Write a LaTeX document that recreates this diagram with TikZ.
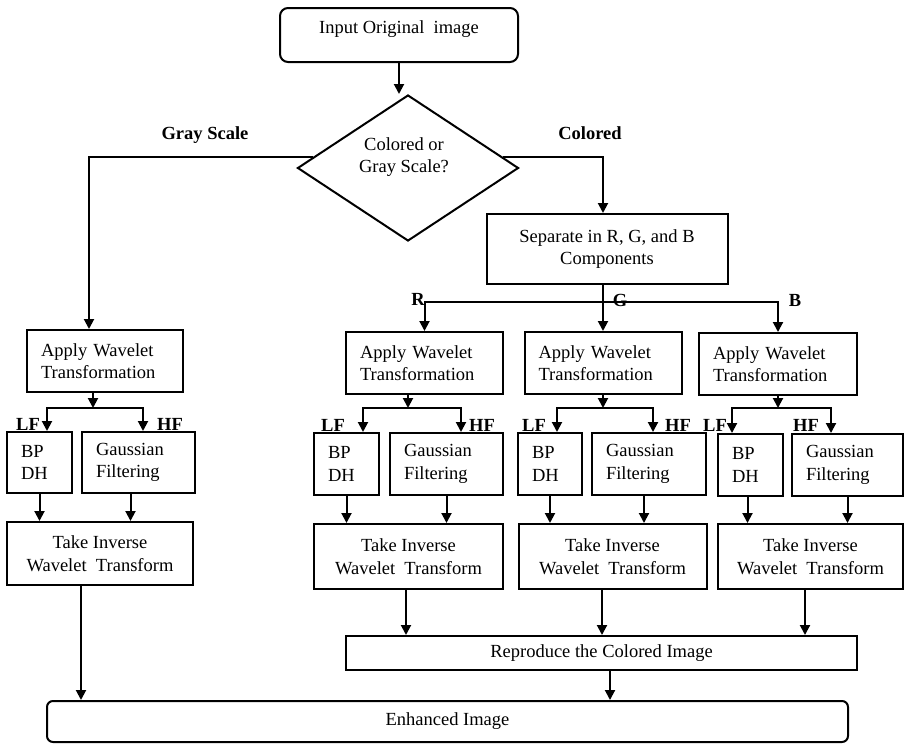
\documentclass[tikz,border=0pt]{standalone}
\usepackage{fontspec}
\setmainfont{Liberation Serif}
\usetikzlibrary{arrows.meta,shapes.geometric,calc}
\begin{document}
\begin{tikzpicture}[x=1pt,y=-1pt,
  every node/.style={font=\fontsize{18.5}{22.5}\selectfont},
  ln/.style={line width=2pt},
  arr/.style={line width=2pt,-{Triangle[width=10pt,length=10pt]}},
  box/.style={draw,line width=2pt,rectangle,inner sep=0pt,align=center},
  rbox/.style={box,rounded corners=8pt},
  lbox/.style={box,align=left},
  lab/.style={font=\bfseries\fontsize{18.5}{22.5}\selectfont,inner sep=0pt}]
\useasboundingbox[fill=white] (0,0) rectangle (905,744);

% top
\node[rbox,minimum width=238,minimum height=54,text height=12pt,text depth=14pt] (in) at (399,35) {Input Original\ \ image};
\node[diamond,draw,ln,minimum width=221,minimum height=146,inner sep=0pt] (dec) at (408,168) {};
\node[align=center,inner sep=0pt] (dect) at (404,157) {Colored or\\Gray Scale?};
\draw[arr] (in.south) -- (in.south |- dec.north);

\node[lab] (gsl) at (205,135) {Gray Scale};
\node[lab] (coll) at (590,133) {Colored};

\node[box,minimum width=241,minimum height=70] (sep) at (607,249) {Separate in R, G, and B\\Components};

% apply wavelet boxes
\node[lbox,minimum width=156,minimum height=62,text width=128] (aw0) at (105,361) {Apply Wavelet\\Transformation};
\node[lbox,minimum width=157,minimum height=62,text width=129] (awR) at (424.5,363) {Apply Wavelet\\Transformation};
\node[lbox,minimum width=157,minimum height=62,text width=129] (awG) at (603,363) {Apply Wavelet\\Transformation};
\node[lbox,minimum width=158,minimum height=62,text width=130] (awB) at (778,364) {Apply Wavelet\\Transformation};

\draw[arr] ($(dec.west)!0.15!(dec.north)$) -| ([xshift=-16pt]aw0.north);
\draw[arr] ($(dec.east)!0.15!(dec.north)$) -| ([xshift=-4pt]sep.north);

\coordinate (sp) at (603,302);
\draw[ln] ([xshift=-4pt]sep.south) -- (sp);
\draw[arr] (sp) -- (awG.north);
\draw[arr] (sp) -| (awR.north);
\draw[arr] (sp) -| (awB.north);
\node[lab] (lR) at (418,299) {R};
\node[lab] (lG) at (620,300) {G};
\node[lab] (lB) at (795,300) {B};

% BP DH and Gaussian boxes
\node[lbox,minimum width=65,minimum height=61,text width=37] (bp0) at (39.5,462.5) {BP\\DH};
\node[lbox,minimum width=113,minimum height=61,text width=85] (g0) at (138.5,462.5) {Gaussian\\Filtering};
\node[lbox,minimum width=65,minimum height=62,text width=37] (bpR) at (346.5,464) {BP\\DH};
\node[lbox,minimum width=113,minimum height=62,text width=85] (gR) at (446.5,464) {Gaussian\\Filtering};
\node[lbox,minimum width=64,minimum height=62,text width=36] (bpG) at (550,464) {BP\\DH};
\node[lbox,minimum width=114,minimum height=62,text width=86] (gG) at (649,464) {Gaussian\\Filtering};
\node[lbox,minimum width=65,minimum height=62,text width=37] (bpB) at (750.5,465) {BP\\DH};
\node[lbox,minimum width=111,minimum height=62,text width=83] (gB) at (847.5,465) {Gaussian\\Filtering};

% splits
\coordinate (c0) at (93,408);  \coordinate (l0) at (47,408);  \coordinate (h0) at (143,408);
\coordinate (cR) at (408,408); \coordinate (lR0) at (363,408); \coordinate (hR) at (461,408);
\coordinate (cG) at (603,408); \coordinate (lG0) at (557,408); \coordinate (hG) at (653,408);
\coordinate (cB) at (778,408); \coordinate (lB0) at (732,408); \coordinate (hB) at (831,408);

\draw[arr] (aw0.south -| c0) -- (c0);
\draw[arr] (c0) -| (l0 |- bp0.north);
\draw[arr] (c0) -| (h0 |- g0.north);
\draw[arr] (awR.south -| cR) -- (cR);
\draw[arr] (cR) -| (lR0 |- bpR.north);
\draw[arr] (cR) -| (hR |- gR.north);
\draw[arr] (awG.south -| cG) -- (cG);
\draw[arr] (cG) -| (lG0 |- bpG.north);
\draw[arr] (cG) -| (hG |- gG.north);
\draw[arr] (awB.south -| cB) -- (cB);
\draw[arr] (cB) -| (lB0 |- bpB.north);
\draw[arr] (cB) -| (hB |- gB.north);

\node[lab] (LF0) at (28,424) {LF};  \node[lab] (HF0) at (170,424) {HF};
\node[lab] (LFR) at (333,425) {LF}; \node[lab] (HFR) at (482,425) {HF};
\node[lab] (LFG) at (534,425) {LF}; \node[lab] (HFG) at (678,425) {HF};
\node[lab] (LFB) at (715,425) {LF}; \node[lab] (HFB) at (806,425) {HF};

% inverse boxes
\node[box,minimum width=186,minimum height=63] (inv0) at (100,553.5) {Take Inverse\\Wavelet\ \ Transform};
\node[box,minimum width=189,minimum height=65] (invR) at (408.5,556.5) {Take Inverse\\Wavelet\ \ Transform};
\node[box,minimum width=188,minimum height=65] (invG) at (612.5,556.5) {Take Inverse\\Wavelet\ \ Transform};
\node[box,minimum width=185,minimum height=65] (invB) at (810.5,556.5) {Take Inverse\\Wavelet\ \ Transform};

\draw[arr] (bp0.south) -- (bp0.south |- inv0.north);
\draw[arr] ([xshift=-8pt]g0.south) -- ([xshift=-8pt]g0.south |- inv0.north);
\draw[arr] (bpR.south) -- (bpR.south |- invR.north);
\draw[arr] (gR.south) -- (gR.south |- invR.north);
\draw[arr] (bpG.south) -- (bpG.south |- invG.north);
\draw[arr] ([xshift=-5pt]gG.south) -- ([xshift=-5pt]gG.south |- invG.north);
\draw[arr] ([xshift=-3pt]bpB.south) -- ([xshift=-3pt]bpB.south |- invB.north);
\draw[arr] (gB.south) -- (gB.south |- invB.north);

% bottom
\node[box,minimum width=511,minimum height=34] (rep) at (601.5,653) {Reproduce the Colored Image};
\node[rbox,rounded corners=6pt,minimum width=801,minimum height=41] (enh) at (447.5,721.5) {Enhanced Image};

\draw[arr] ([xshift=-2.5pt]invR.south) -- ([xshift=-2.5pt]invR.south |- rep.north);
\draw[arr] ([xshift=-10.5pt]invG.south) -- ([xshift=-10.5pt]invG.south |- rep.north);
\draw[arr] ([xshift=-5.5pt]invB.south) -- ([xshift=-5.5pt]invB.south |- rep.north);
\draw[arr] ([xshift=-19pt]inv0.south) -- ([xshift=-19pt]inv0.south |- enh.north);
\draw[arr] ([xshift=8.5pt]rep.south) -- ([xshift=8.5pt]rep.south |- enh.north);
\end{tikzpicture}
\end{document}
